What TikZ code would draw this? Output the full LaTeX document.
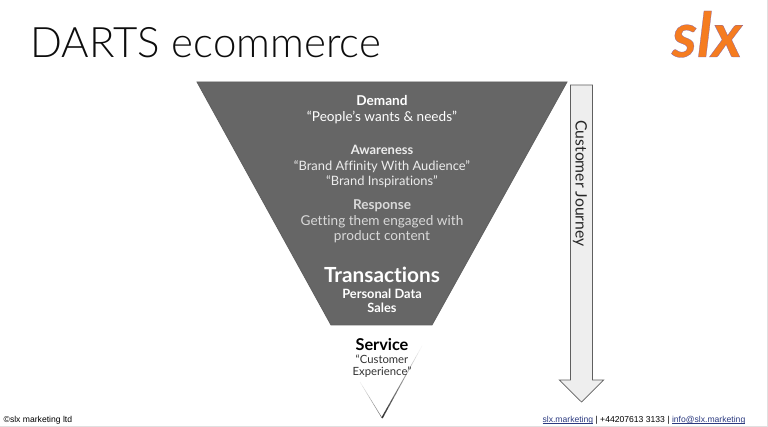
\documentclass[tikz,border=0pt]{standalone}
\usepackage{fontspec}
\usepackage{tikz}
\setmainfont[Ligatures=NoCommon]{Lato}
\newfontfamily\titlefont{Lato Light}
\newfontfamily\footfont{Liberation Sans}
\definecolor{funnelgrey}{HTML}{666666}
\definecolor{arrowgrey}{HTML}{EEEEEE}
\definecolor{edgegrey}{HTML}{5F5F5F}
\definecolor{slxorange}{HTML}{F57C20}
\definecolor{linkblue}{HTML}{2B3A80}
\newcommand{\linktext}[1]{\textcolor{linkblue}{\setbox0\hbox{#1}\rlap{\rule[-1.1pt]{\wd0}{0.45pt}}\box0}}
\newcommand{\logotext}[1]{\special{pdf:code 2 Tr 0.25 w 0.50 0.38 0.68 RG}#1\special{pdf:code 0 Tr}}
\tikzset{
    funneltext/.style={align=center, inner sep=0pt, font=\fontsize{13.6}{15.3}\selectfont},
    foottext/.style={inner sep=0pt, font=\footfont\fontsize{8.6}{10}\selectfont},
}

\begin{document}
\begin{tikzpicture}[x=1pt, y=-1pt]
    \useasboundingbox (0, 0) rectangle (768, 427);
    \fill[white] (0, 0) rectangle (768, 427);
    \fill[black!12] (0, 425.5) rectangle (768, 427);
    \fill[black!12] (766.8, 0) rectangle (768, 427);
    % funnel
    \draw[draw=edgegrey, fill=funnelgrey, line width=0.8pt] (197, 82) -- (567, 82) -- (432, 325) -- (331, 325) -- cycle;
    % small triangle
    \foreach \i in {0,...,19} {
        \pgfmathsetmacro{\mixv}{80-\i*4}
        \draw[black!\mixv!white, line width={1.5-\i*0.06}] ({382+\i*2}, {418-\i*3.6}) -- ({384+\i*2}, {414.4-\i*3.6});
    }
    \foreach \i in {0,...,9} {
        \pgfmathsetmacro{\mixv}{60-\i*6}
        \draw[black!\mixv!white, line width=0.5pt] ({382-\i*2.2}, {418-\i*3.6}) -- ({379.8-\i*2.2}, {414.4-\i*3.6});
    }
    % customer journey arrow
    \draw[draw=edgegrey, fill=arrowgrey, line width=0.7pt] (570.5, 85) -- (592.5, 85) -- (592.5, 380) -- (603.7, 380) -- (581.5, 402) -- (559.3, 380) -- (570.5, 380) -- cycle;
    \node[rotate=-90, inner sep=0pt, text=black!85, font=\fontsize{15.7}{18}\selectfont] (journey) at (580, 183.5) {Customer Journey};

    \node[inner sep=0pt, anchor=base west, text=black!95, font=\titlefont\fontsize{42}{48}\selectfont] (title) at (30.5, 57.5) {DARTS ecommerce};
    \node[inner sep=0pt, anchor=base, text=slxorange, font=\itshape\bfseries\fontsize{62}{66}\selectfont] (logo) at (707, 57) {\logotext{slx}};

    \node[funneltext, text=white] (demand) at (382, 109.5) {\textbf{Demand}\\“People’s wants \& needs”};
    \node[funneltext, text=black!7, font=\fontsize{12.9}{15.3}\selectfont] (awareness) at (382, 166.5) {\textbf{Awareness}\\“Brand Affinity With Audience”\\“Brand Inspirations”};
    \node[funneltext, text=black!15] (response) at (382, 221.5) {\textbf{Response}\\Getting them engaged with\\product content};
    \node[inner sep=0pt, text=white, font=\bfseries\fontsize{20.8}{24}\selectfont] (transactions) at (382, 275) {Transactions};
    \node[funneltext, text=white, font=\bfseries\fontsize{12.8}{14.5}\selectfont] (personal) at (382, 301) {Personal Data\\Sales};
    \node[inner sep=0pt, text=black, font=\bfseries\fontsize{16.3}{18}\selectfont] (service) at (382, 344.5) {Service};
    \node[align=center, inner sep=0pt, text=black!80, font=\fontsize{11.3}{12.5}\selectfont] (experience) at (382, 366) {“Customer\\Experience”};

    \node[foottext, anchor=west] (copyright) at (3.5, 420.5) {©slx marketing ltd};
    \node[foottext, anchor=east] (contact) at (745.5, 420.5) {\linktext{slx.marketing} | +44207613 3133 | \linktext{info@slx.marketing}};
\end{tikzpicture}
\end{document}
